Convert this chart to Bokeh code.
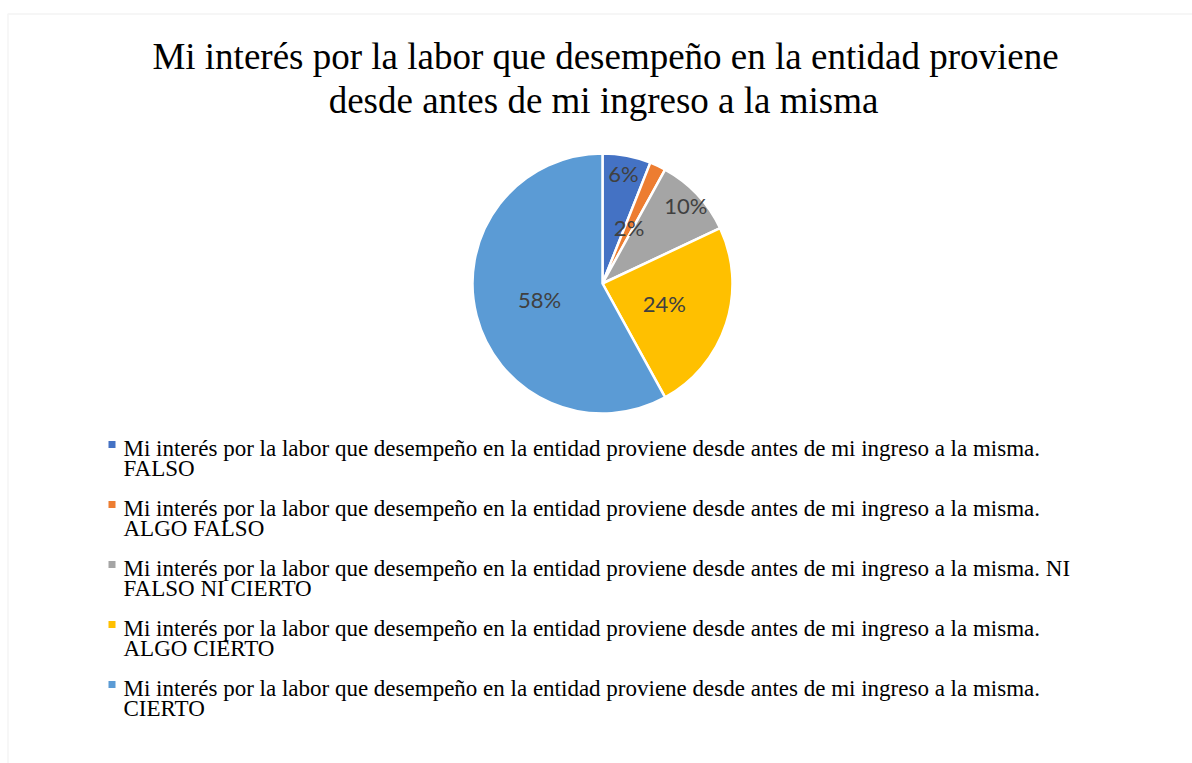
import math
from bokeh.plotting import figure
from bokeh.models import Range1d, BoxAnnotation, ColumnDataSource
from bokeh.core.properties import value
from bokeh.embed import file_html
from bokeh.resources import INLINE

# ---- data ----
title_lines = ["Mi interés por la labor que desempeño en la entidad proviene",
               "desde antes de mi ingreso a la misma"]
question = "Mi interés por la labor que desempeño en la entidad proviene desde antes de mi ingreso a la misma."
categories = ["FALSO", "ALGO FALSO", "NI FALSO NI CIERTO", "ALGO CIERTO", "CIERTO"]
percentages = [6, 2, 10, 24, 58]
colors = ["#4472C4", "#ED7D31", "#A5A5A5", "#FFC000", "#5B9BD5"]

# ---- layout (pixel-like coordinates, y up) ----
W, H = 1192, 763
cx, cy, R = 602, H - 283, 130
label_frac = [0.86, 0.48, 0.88, 0.5, 0.5]
words_first_line = [0, 0, 1, 0, 0]

p = figure(width=W, height=H, output_backend="svg", toolbar_location=None,
           x_range=Range1d(0, W), y_range=Range1d(0, H),
           x_axis_location=None, y_axis_location=None, min_border=0,
           outline_line_color=None, background_fill_color="white",
           border_fill_color="white")
p.grid.visible = False

# chart area border (light gray)
p.add_layout(BoxAnnotation(left=7.5, right=W + 50, top=H - 13.5, bottom=-50,
                           fill_alpha=0, line_color="#D9D9D9", line_width=1.5))

# pie wedges
total = sum(percentages)
starts, ends, lx, ly, texts = [], [], [], [], []
cum = 0
for i, v in enumerate(percentages):
    a0 = math.pi / 2 - 2 * math.pi * cum / total
    a1 = math.pi / 2 - 2 * math.pi * (cum + v) / total
    starts.append(a0)
    ends.append(a1)
    mid = (a0 + a1) / 2
    lx.append(cx + R * label_frac[i] * math.cos(mid))
    ly.append(cy + R * label_frac[i] * math.sin(mid))
    texts.append(f"{v}%")
    cum += v

src = ColumnDataSource(dict(start=starts, end=ends, color=colors,
                            lx=lx, ly=ly, txt=texts))
p.wedge(x=cx, y=cy, radius=R, start_angle="start", end_angle="end",
        direction="clock", fill_color="color", line_color="white",
        line_width=2.5, source=src)
p.text(x="lx", y="ly", text="txt", source=src, text_font=value("Lato"),
       text_font_size="22px", text_color="#404040", text_align="center",
       text_baseline="middle")

# title
p.text(x=[605, 603], y=[H - 56, H - 100], text=title_lines,
       text_font=value("Liberation Serif"), text_font_size="37px",
       text_color="#000000", text_align="center", text_baseline="alphabetic")

# legend
mx, my, l1, l2 = [], [], [], []
ty1, ty2 = [], []
for i, c in enumerate(categories):
    words = c.split(" ")
    k = words_first_line[i]
    first = question + ("" if k == 0 else " " + " ".join(words[:k]))
    second = " ".join(words[k:])
    base = 454 + 60 * i
    mx.append(111.5)
    my.append(H - (base - 10))
    l1.append(first)
    l2.append(second)
    ty1.append(H - (base - 6))
    ty2.append(H - (base - 6) - 20)

p.scatter(x=mx, y=my, marker="square", size=7, fill_color=colors,
          line_color=None)
p.text(x=[123] * 5, y=ty1, text=l1, text_font=value("Liberation Serif"),
       text_font_size="23px", text_color="#000000", text_baseline="alphabetic")
p.text(x=[123] * 5, y=ty2, text=l2, text_font=value("Liberation Serif"),
       text_font_size="23px", text_color="#000000", text_baseline="alphabetic")

open("out.html", "w").write(file_html(p, INLINE))
